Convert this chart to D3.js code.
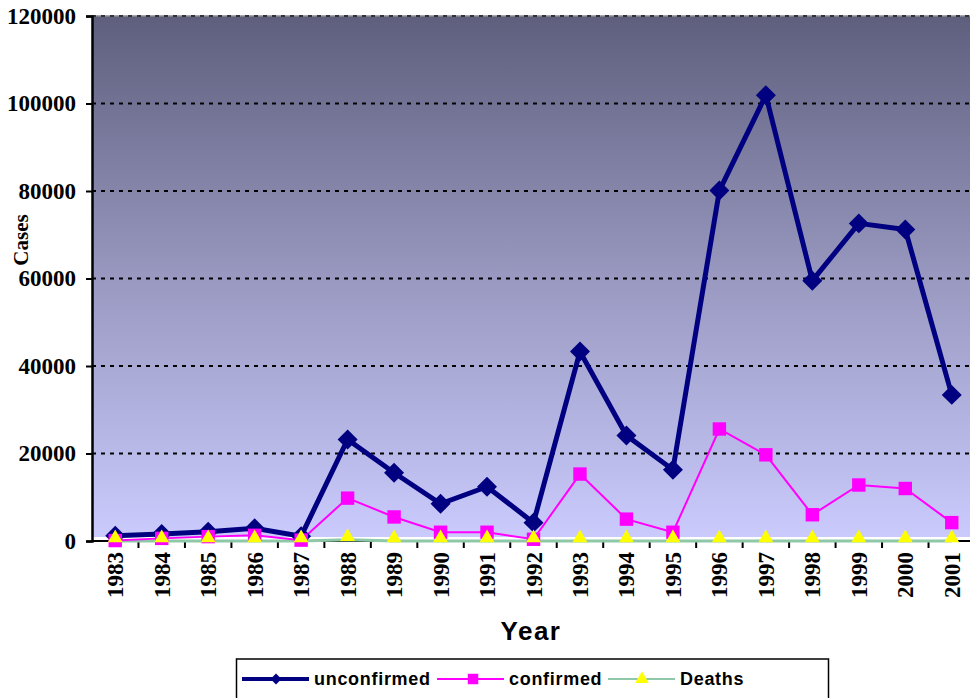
<!DOCTYPE html>
<html>
<head>
<meta charset="utf-8">
<script src="https://cdn.jsdelivr.net/npm/d3@7"></script>
<style>
  body { margin: 0; background: #fff; }
  svg { display: block; }
</style>
</head>
<body>
<svg id="chart" width="970" height="698"></svg>
<script>
// chart values
const years = ["1983","1984","1985","1986","1987","1988","1989","1990","1991","1992",
               "1993","1994","1995","1996","1997","1998","1999","2000","2001"];
const unconfirmed = [1200, 1600, 2100, 2900, 1100, 23200, 15600, 8500, 12400, 4200,
                     43300, 24100, 16300, 80100, 101900, 59500, 72600, 71200, 33400];
const confirmed = [100, 600, 1000, 1300, 200, 9800, 5500, 2000, 2000, 400,
                   15300, 5000, 2000, 25600, 19700, 6000, 12800, 12000, 4200];
const deaths = [0, 0, 0, 0, 0, 300, 0, 0, 0, 0, 0, 0, 0, 0, 0, 0, 0, 0, 0];
const yTicks = [0, 20000, 40000, 60000, 80000, 100000, 120000];

const svg = d3.select("#chart");
const plotLeft = 92, plotRight = 975, plotTop = 16, plotBottom = 541;
const serif = "'Liberation Serif', 'Times New Roman', serif";
const sans = "'Liberation Sans', Arial, sans-serif";

const x = d3.scaleBand().domain(years).range([plotLeft, plotRight]);
const y = d3.scaleLinear().domain([0, 120000]).range([plotBottom, plotTop]);

// background gradient in the plot area
const grad = svg.append("defs").append("linearGradient")
    .attr("id", "bg").attr("x1", 0).attr("y1", 0).attr("x2", 0).attr("y2", 1);
grad.append("stop").attr("offset", "0%").attr("stop-color", "#5e5f7d");
grad.append("stop").attr("offset", "50%").attr("stop-color", "#9898c0");
grad.append("stop").attr("offset", "100%").attr("stop-color", "#cacafd");

svg.append("rect")
    .attr("x", plotLeft).attr("y", plotTop)
    .attr("width", plotRight - plotLeft).attr("height", plotBottom - 4 - plotTop)
    .attr("fill", "url(#bg)");
svg.append("line")
    .attr("x1", plotLeft).attr("x2", plotRight).attr("y1", plotTop).attr("y2", plotTop)
    .attr("stroke", "#8a8a9a").attr("stroke-width", 1.5);

// dashed gridlines
svg.append("g").selectAll("line")
    .data(yTicks.filter(d => d > 0))
    .join("line")
    .attr("x1", plotLeft).attr("x2", plotRight)
    .attr("y1", d => y(d)).attr("y2", d => y(d))
    .attr("stroke", d => d === 120000 ? "#333" : "#000")
    .attr("stroke-width", 2)
    .attr("stroke-dasharray", "4,5");

// y axis
const yAxis = svg.append("g")
    .attr("transform", `translate(${plotLeft},0)`)
    .call(d3.axisLeft(y).tickValues(yTicks).tickSize(6).tickPadding(10).tickFormat(d3.format("d")));
yAxis.select(".domain").attr("stroke", "#000").attr("stroke-width", 2.5);
yAxis.selectAll(".tick line").attr("stroke", "#000").attr("stroke-width", 2);
yAxis.selectAll("text")
    .attr("font-family", serif)
    .attr("font-weight", "bold").attr("font-size", 23).attr("fill", "#000");

// x axis with ticks between categories
const xAxis = svg.append("g").attr("transform", `translate(0,${plotBottom})`);
xAxis.append("line").attr("x1", plotLeft).attr("x2", plotRight)
    .attr("stroke", "#000").attr("stroke-width", 2);
xAxis.selectAll("line.tk")
    .data(years.slice(1))
    .join("line").attr("class", "tk")
    .attr("x1", d => x(d)).attr("x2", d => x(d))
    .attr("y1", 0).attr("y2", 7)
    .attr("stroke", "#000").attr("stroke-width", 2);
xAxis.selectAll("text")
    .data(years)
    .join("text")
    .attr("transform", d => `translate(${x(d) + x.bandwidth() / 2 + 8},11) rotate(-90)`)
    .attr("text-anchor", "end")
    .attr("font-family", serif)
    .attr("font-weight", "bold").attr("font-size", 23)
    .text(d => d);

// axis titles
svg.append("text")
    .attr("x", 531).attr("y", 640)
    .attr("text-anchor", "middle")
    .attr("font-family", sans)
    .attr("font-weight", "bold").attr("font-size", 26)
    .attr("letter-spacing", 1.5)
    .text("Year");
svg.append("text")
    .attr("transform", "translate(28,240) rotate(-90)")
    .attr("text-anchor", "middle")
    .attr("font-family", serif)
    .attr("font-weight", "bold").attr("font-size", 21)
    .text("Cases");

const cx = d => x(d) + x.bandwidth() / 2;
const line = d3.line().x((v, i) => cx(years[i])).y(v => y(v));

const diamond = d3.symbol().type(d3.symbolSquare).size(200);
const square = d3.symbol().type(d3.symbolSquare).size(180);
const triangle = d3.symbol().type(d3.symbolTriangle).size(95);

// Deaths
svg.append("path").datum(deaths)
    .attr("d", line).attr("fill", "none")
    .attr("stroke", "#8ec8a8").attr("stroke-width", 3);

// confirmed
svg.append("path").datum(confirmed)
    .attr("d", line).attr("fill", "none")
    .attr("stroke", "#ff00ff").attr("stroke-width", 2);

// unconfirmed
svg.append("path").datum(unconfirmed)
    .attr("d", line).attr("fill", "none")
    .attr("stroke", "#000080").attr("stroke-width", 5);

svg.append("g").selectAll("path")
    .data(unconfirmed)
    .join("path")
    .attr("d", diamond)
    .attr("transform", (v, i) => `translate(${cx(years[i])},${y(v)}) rotate(45)`)
    .attr("fill", "#000080");

svg.append("g").selectAll("path")
    .data(confirmed)
    .join("path")
    .attr("d", square)
    .attr("transform", (v, i) => `translate(${cx(years[i])},${y(v)})`)
    .attr("fill", "#ff00ff");

svg.append("g").selectAll("path")
    .data(deaths)
    .join("path")
    .attr("d", triangle)
    .attr("transform", (v, i) => `translate(${cx(years[i])},${y(v) - 3})`)
    .attr("fill", "#ffff00");

// legend
const legend = svg.append("g");
legend.append("rect")
    .attr("x", 236.5).attr("y", 659).attr("width", 592).attr("height", 50)
    .attr("fill", "#fff").attr("stroke", "#000").attr("stroke-width", 1.5);

const items = [
  { name: "unconfirmed", x0: 242, color: "#000080", w: 4, sym: "diamond" },
  { name: "confirmed", x0: 437, color: "#ff00ff", w: 2, sym: "square" },
  { name: "Deaths", x0: 608, color: "#8ec8a8", w: 2, sym: "triangle" }
];
const ly = 679;
items.forEach(it => {
  legend.append("line")
      .attr("x1", it.x0).attr("x2", it.x0 + 67).attr("y1", ly).attr("y2", ly)
      .attr("stroke", it.color).attr("stroke-width", it.w);
  const m = legend.append("path");
  if (it.sym === "diamond") {
    m.attr("d", d3.symbol().type(d3.symbolSquare).size(60))
     .attr("transform", `translate(${it.x0 + 34},${ly}) rotate(45)`).attr("fill", it.color);
  } else if (it.sym === "square") {
    m.attr("d", d3.symbol().type(d3.symbolSquare).size(110))
     .attr("transform", `translate(${it.x0 + 36},${ly})`).attr("fill", it.color);
  } else {
    m.attr("d", d3.symbol().type(d3.symbolTriangle).size(80))
     .attr("transform", `translate(${it.x0 + 34},${ly})`).attr("fill", "#ffff00");
  }
  legend.append("text")
      .attr("x", it.x0 + 72).attr("y", ly + 6)
      .attr("font-family", sans)
      .attr("font-weight", "bold").attr("font-size", 18)
      .attr("letter-spacing", 0.7)
      .text(it.name);
});
</script>
</body>
</html>
